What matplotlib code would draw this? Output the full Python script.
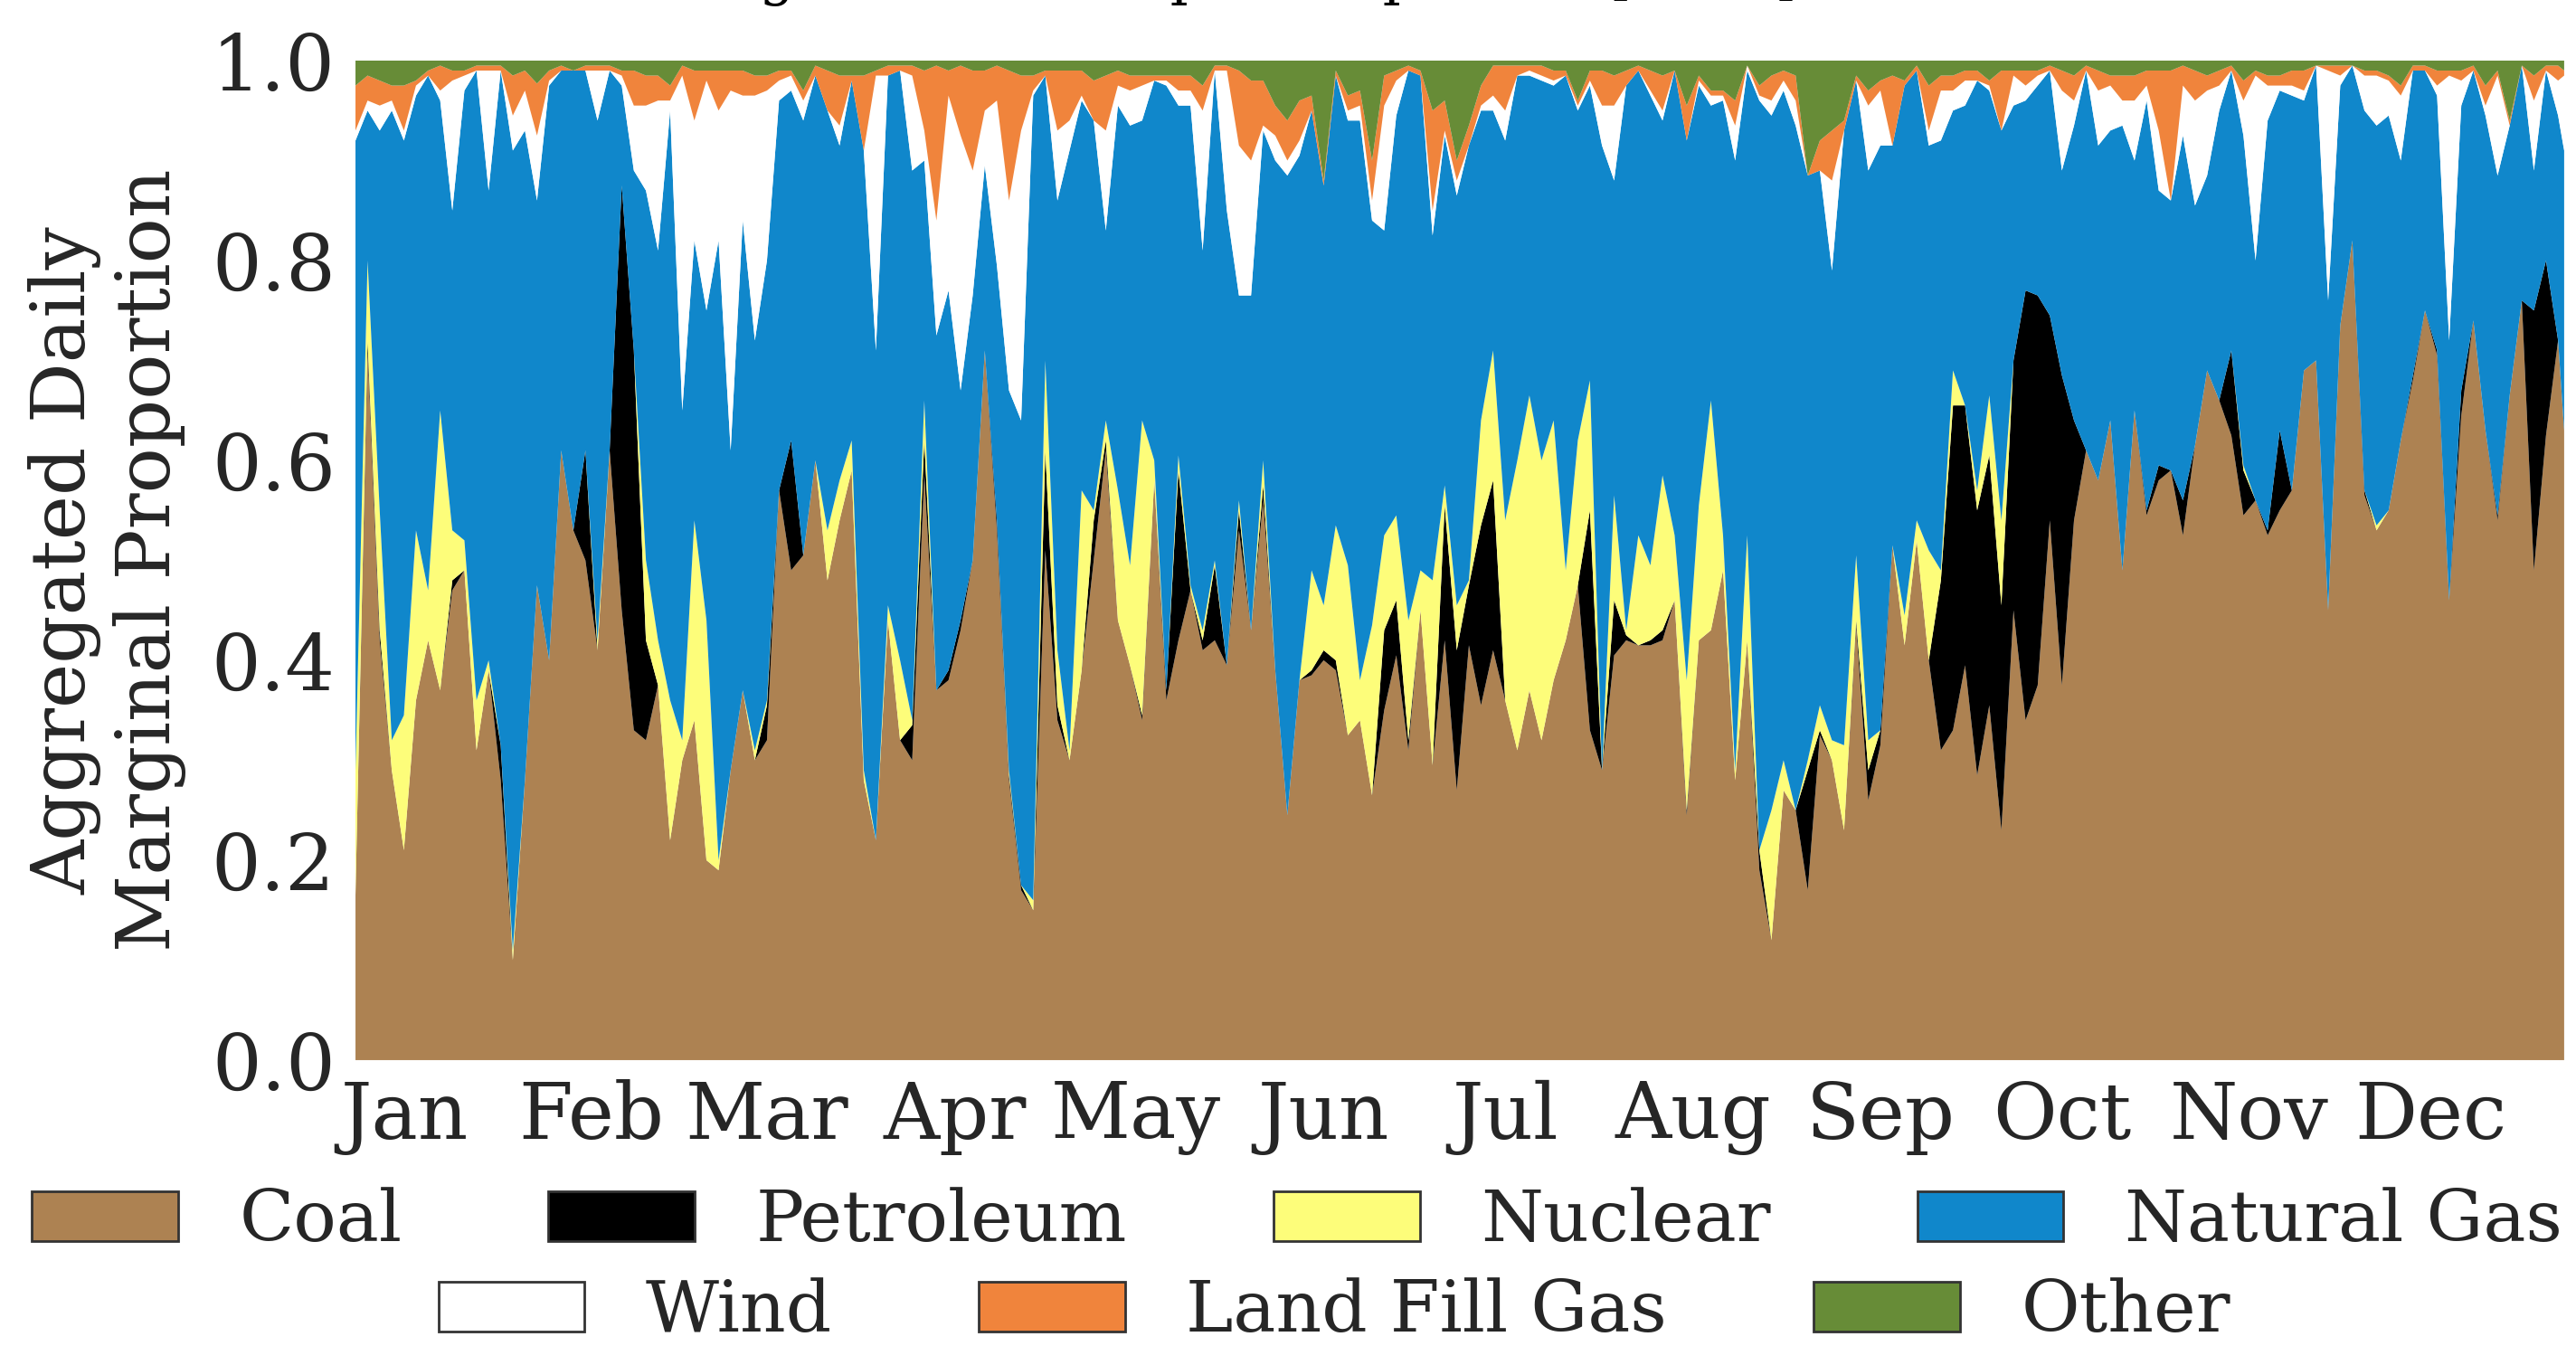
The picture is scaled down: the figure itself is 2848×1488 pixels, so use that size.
import numpy as np
import matplotlib.pyplot as plt
from matplotlib.patches import Patch

plt.rcParams['font.family'] = 'DejaVu Serif'

# day of year (2016), read every second day
days = np.append(np.arange(0, 366, 2), 365)

coal = [.165, .71, .42, .29, .21, .36, .42, .37, .47, .49, .31, .39, .28, .10, .28, .475,
        .40, .61, .53, .50, .41, .61, .45, .33, .32, .375, .22, .30, .34, .20, .19,
        .29, .37, .30, .32, .57, .49, .505, .60, .48, .54, .59, .28, .22, .44, .32,
        .30, .585, .37, .38, .43, .50, .71, .53, .28, .17, .15, .51, .34, .30, .39,
        .50, .61, .44, .395, .34, .58, .36, .42, .47, .41, .42, .395, .53, .43, .56,
        .39, .245, .38, .385, .40, .39, .325, .34, .265, .35, .405, .31, .45, .295, .42,
        .27, .415, .355, .41, .36, .31, .37, .32, .38, .42, .475, .33, .29, .405, .42,
        .415, .415, .42, .46, .245, .42, .43, .49, .28, .42, .19, .12, .27, .25, .17,
        .325, .30, .23, .435, .26, .315, .515, .415, .52, .40, .31, .33, .395, .285, .355,
        .23, .45, .34, .375, .54, .375, .54, .61, .58, .64, .49, .65, .545, .58, .59,
        .525, .615, .69, .66, .625, .545, .56, .525, .55, .57, .69, .70, .45, .735, .82,
        .565, .53, .55, .62, .68, .75, .705, .46, .645, .74, .63, .54, .665, .76, .49,
        .625, .72, .63]

petroleum = [0, .01, .01, 0, 0, 0, 0, 0, .01, 0, 0, 0, .035, 0, 0, 0,
             0, 0, 0, .11, 0, 0, .425, .38, .10, 0, 0, 0, 0, 0, 0,
             0, 0, 0, .035, 0, .13, 0, 0, 0, 0, 0, 0, 0, 0, 0,
             .035, .035, 0, .01, .01, 0, 0, .01, .005, .005, 0, .10, .015, 0, 0,
             .04, .01, 0, 0, .005, 0, .01, .17, 0, .01, .075, 0, .02, 0, .015,
             0, 0, 0, .005, .01, .01, 0, 0, 0, .08, .055, .01, 0, 0, .135,
             .14, .06, .18, .17, 0, 0, 0, 0, 0, 0, 0, .22, 0, .055, .005,
             0, .005, .01, 0, .005, 0, 0, 0, 0, 0, .02, 0, 0, 0, .12,
             .005, 0, 0, .005, .03, .015, 0, 0, 0, 0, .17, .325, .26, .265, .25,
             .225, .25, .43, .39, .205, .31, .10, 0, 0, 0, 0, 0, .005, .015, 0,
             .035, 0, 0, 0, .085, .045, 0, .005, .08, 0, 0, 0, 0, 0, 0,
             .005, 0, 0, 0, .005, 0, .005, 0, .025, 0, 0, .005, 0, 0, .26,
             .175, 0, 0]

nuclear = [.125, .08, .12, .03, .135, .17, .05, .28, .05, .03, .05, .01, 0, .01, 0, 0,
           0, 0, 0, 0, .01, 0, 0, 0, .08, .045, .14, .02, .20, .24, .01,
           0, 0, .01, .005, 0, 0, 0, 0, .05, .04, .03, .01, 0, .015, .08,
           .005, .04, 0, 0, 0, 0, 0, 0, .005, 0, .01, .09, .055, .01, .18,
           .01, .02, .13, .10, .295, .02, 0, .015, .005, .01, .005, 0, .01, 0, .025,
           0, 0, 0, .10, .045, .135, .17, .04, .17, .095, .085, .12, .04, .185, .02,
           .045, .005, .105, .13, .18, .29, .295, .28, .26, .07, .145, .13, 0, .105, .005,
           .11, .075, .155, .065, .13, .135, .23, .035, .01, .105, 0, .13, .03, 0, .01,
           .025, .02, .085, .065, .03, 0, 0, .03, .02, .11, .01, .035, 0, .02, .06,
           .085, 0, 0, 0, 0, 0, 0, 0, 0, 0, 0, 0, 0, 0, 0,
           0, 0, 0, 0, 0, .005, 0, 0, 0, 0, 0, 0, 0, 0, 0,
           0, .005, 0, 0, 0, 0, 0, 0, 0, 0, 0, 0, 0, 0, 0,
           0, 0, 0]

natural_gas = [.63, .15, .38, .63, .575, .435, .515, .31, .32, .45, .63, .47, .675, .80, .65, .385,
               .575, .38, .46, .38, .52, .38, .10, .18, .37, .39, .59, .33, .28, .31, .62,
               .32, .47, .41, .44, .39, .35, .435, .385, .42, .335, .36, .62, .49, .53, .59,
               .55, .24, .355, .38, .23, .265, .185, .255, .38, .465, .805, .285, .45, .60, .39,
               .39, .19, .385, .44, .30, .38, .605, .35, .48, .38, .49, .455, .205, .335, .33,
               .51, .64, .525, .46, .42, .45, .445, .56, .405, .305, .40, .55, .495, .345, .35,
               .41, .435, .31, .24, .38, .385, .32, .38, .335, .495, .33, .295, .625, .315, .545,
               .465, .47, .355, .465, .54, .42, .295, .435, .61, .465, .75, .695, .67, .685, .585,
               .535, .47, .615, .475, .57, .585, .40, .53, .45, .405, .43, .26, .30, .41, .305,
               .39, .255, .19, .21, .245, .205, .295, .38, .335, .29, .445, .25, .41, .275, .27,
               .365, .24, .195, .29, .28, .33, .24, .41, .34, .395, .27, .295, .31, .24, .175,
               .38, .40, .395, .28, .305, .24, .255, .26, .285, .25, .315, .34, .27, .235, .14,
               .19, .225, .28]

wind = [.01, .01, .025, .01, .01, .01, 0, .01, .13, .015, 0, .12, 0, .035, .04, .065,
        .005, 0, 0, 0, .05, 0, .01, .065, .085, .15, .01, .335, .12, .23, .13,
        .36, .125, .245, .17, .02, .015, .02, 0, 0, .02, 0, 0, .275, 0, 0,
        .095, .03, .115, .195, .255, .125, .055, .165, .19, .29, .005, 0, .07, .03, .005,
        0, .10, .02, .035, .035, 0, .005, .015, .015, .14, 0, .14, .15, .135, .005,
        .025, .015, .015, 0, 0, 0, .01, .015, .02, .125, .035, 0, 0, .025, .005,
        .015, 0, .005, .015, .03, 0, .005, .005, .005, 0, .005, .005, .04, .075, 0,
        0, .005, .01, 0, 0, .005, .01, .005, .035, .005, .005, .015, .01, .025, 0,
        0, .09, 0, 0, .065, .055, 0, 0, 0, .015, .05, .02, .025, 0, .005,
        0, .03, .015, .01, 0, .08, .025, 0, .055, .045, .025, .06, .015, .06, 0,
        .05, .105, .085, .025, 0, .035, .185, .035, .005, .01, .01, 0, .23, .01, 0,
        .035, .05, .035, .065, 0, 0, .01, .265, .025, 0, .01, .10, 0, 0, .07,
        0, .035, .075]

land_fill_gas = [.045, .025, .025, .015, .045, .005, .005, .025, .01, .005, .005, .005, .005, .04, .02, .052,
                 .01, .005, 0, .005, .005, .005, .005, .035, .03, .025, .015, .01, .05, .01, .04,
                 .02, .025, .02, .015, .01, .005, .01, .01, .04, .05, .005, .075, .005, .01, .005,
                 .01, .06, .155, .025, .07, .10, .04, .035, .13, .055, .015, .005, .06, .05, .025,
                 .04, .055, .015, .015, .01, .005, .005, .015, .015, .025, .005, .005, .075, .08, .045,
                 .03, .04, .04, .015, .005, .005, .015, .015, .04, .03, .01, .005, .005, .10, .03,
                 .02, .02, .02, .03, .045, .01, .005, .01, .01, .005, .005, .01, .035, .03, .015,
                 .005, .02, .035, 0, .035, .005, .005, .005, .025, 0, .01, .025, .01, .025, 0,
                 .03, .05, .01, .005, .015, .01, .07, .005, .005, .045, .015, .015, .01, .01, .005,
                 .06, .005, .015, .005, .005, .02, .025, .005, .02, .01, .025, .025, .015, .06, .13,
                 .02, .03, .015, .015, .005, .02, .005, .01, .01, .015, .02, 0, .005, .01, 0,
                 .005, .005, .005, .01, .005, .005, .015, .005, .01, .005, .02, .005, .005, 0, .025,
                 .005, .015, .005]

other = [.025, .015, .02, .025, .025, .02, .01, .005, .01, .01, .005, .005, .005, .015, .01, .023,
         .01, .005, .01, .005, .005, .005, .01, .01, .015, .015, .025, .005, .01, .01, .01,
         .01, .01, .015, .015, .01, .01, .03, .005, .01, .015, .015, .015, .01, .005, .005,
         .005, .01, .005, .01, .005, .01, .01, .005, .01, .015, .015, .01, .01, .01, .01,
         .02, .015, .01, .015, .015, .015, .015, .015, .015, .025, .005, .005, .01, .02, .02,
         .045, .06, .04, .035, .12, .01, .035, .03, .10, .015, .01, .005, .01, .05, .04,
         .10, .065, .025, .005, .005, .005, .005, .005, .01, .01, .04, .01, .01, .015, .01,
         .005, .01, .015, .01, .045, .015, .03, .03, .04, .005, .025, .015, .01, .015, .115,
         .08, .07, .06, .015, .03, .02, .015, .02, .005, .025, .015, .015, .01, .01, .02,
         .01, .01, .01, .01, .005, .01, .015, .005, .01, .015, .015, .015, .01, .01, .01,
         .005, .01, .015, .01, .005, .02, .01, .015, .015, .01, .01, .005, .005, .005, .005,
         .01, .01, .015, .025, .005, .005, .01, .01, .01, .005, .025, .01, .06, .005, .015,
         .005, .005, .01]

labels = ['Coal', 'Petroleum', 'Nuclear', 'Natural Gas', 'Wind', 'Land Fill Gas', 'Other']
colors = ['#ad8252', '#000000', '#fdfd7a', '#1087cb', '#ffffff', '#f0843c', '#678c37']

months = ['Jan', 'Feb', 'Mar', 'Apr', 'May', 'Jun', 'Jul', 'Aug', 'Sep', 'Oct', 'Nov', 'Dec']
month_start = [0, 31, 60, 91, 121, 152, 182, 213, 244, 274, 305, 335]

fig = plt.figure(figsize=(14.24, 7.44), dpi=200)
ax = fig.add_axes([0.138, 0.2124, 0.8574, 0.7426])

ax.stackplot(days, coal, petroleum, nuclear, natural_gas, wind, land_fill_gas, other,
             colors=colors, linewidth=0)

ax.set_xlim(0, 365)
ax.set_ylim(0, 1)
for s in ax.spines.values():
    s.set_visible(False)

ax.set_xticks(np.array(month_start) + 8)
ax.set_xticklabels(months)
ax.set_yticks([0, 0.2, 0.4, 0.6, 0.8, 1.0])
ax.set_yticklabels(['0.0', '0.2', '0.4', '0.6', '0.8', '1.0'])
ax.tick_params(length=0, labelsize=31, pad=8, colors='#262626')
ax.set_ylabel('Aggregated Daily\nMarginal Proportion', fontsize=30, labelpad=10, color='#262626')

# title sits mostly above the top of the figure, as in the original
fig.text(0.4733, 1.005, 'Marginal Fuel Output Proportion [2016]', ha='center',
         va='baseline', fontsize=22.5)

handles = [Patch(facecolor=c, edgecolor='0.2', linewidth=1) for c in colors]
leg_kw = dict(loc='center', frameon=False, fontsize=28.4, handlelength=2.05, handleheight=0.7,
              handletextpad=0.86, columnspacing=2.05, borderpad=0, borderaxespad=0,
              labelcolor='#262626')
fig.legend(handles[:4], labels[:4], ncol=4, bbox_to_anchor=(0.5035, 0.0927), **leg_kw)
fig.legend(handles[4:], labels[4:], ncol=3, bbox_to_anchor=(0.518, 0.0255), **leg_kw)

fig.savefig('out.png', dpi=200)
plt.close()
